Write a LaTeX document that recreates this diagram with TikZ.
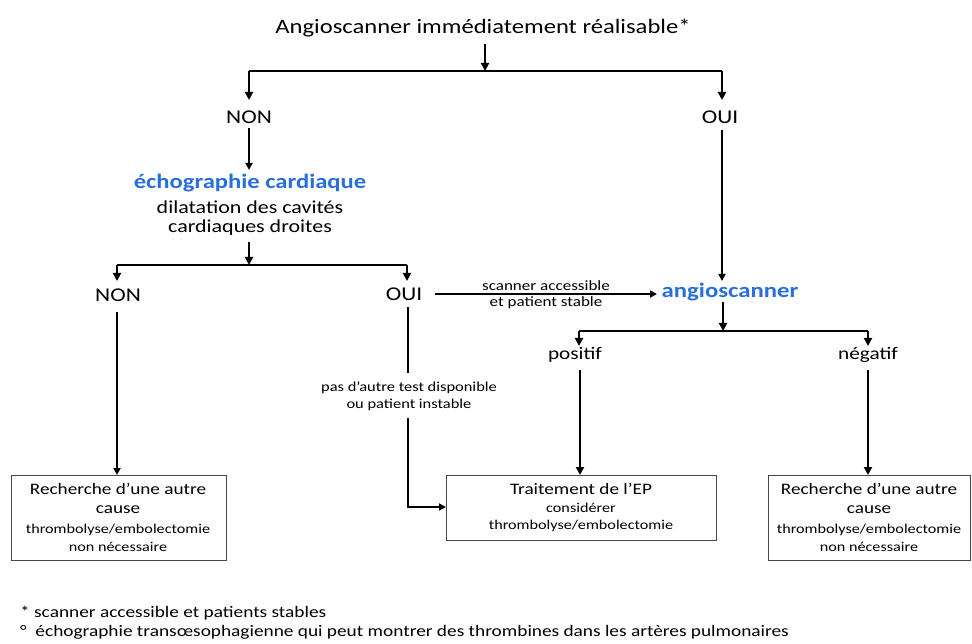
\documentclass[tikz,border=0pt]{standalone}
\usepackage{fontspec}
\setmainfont{Carlito}
\usetikzlibrary{arrows.meta}
\definecolor{echoblue}{RGB}{40,110,220}
\definecolor{boxgray}{RGB}{70,70,70}
\newcommand\X[1]{\scalebox{1.2}[1]{#1}}
\newcommand\fs[1]{\fontsize{#1}{#1}\selectfont}
\begin{document}
\begin{tikzpicture}[x=1pt,y=-1pt,
  lbl/.style={inner sep=0pt,anchor=center,text=black},
  thk/.style={line width=2.8pt},
  thn/.style={line width=1.8pt},
  arr/.style={-{Triangle[length=8pt,width=8pt]}},
  sarr/.style={-{Triangle[length=7pt,width=7pt]}},
  box/.style={draw=boxgray,line width=1.4pt,inner sep=0pt,anchor=north west}]
\useasboundingbox (0,0) rectangle (972,644);
\fill[white] (0,0) rectangle (972,644);

% texts
\node[lbl] (title) at (483,28) {\fs{20.5}\X{Angioscanner immédiatement réalisable*}};
\node[lbl] (non1) at (249,117) {\fs{19.5}\X{NON}};
\node[lbl] (oui1) at (720,117) {\fs{19.5}\X{OUI}};
\node[lbl,text=echoblue] (echo) at (250,183) {\fs{20.5}\bfseries\X{échographie cardiaque}};
\node[lbl] (dil1) at (250,207) {\fs{18.3}\X{dilatation des cavités}};
\node[lbl] (dil2) at (250,228) {\fs{18.3}\X{cardiaques droites}};
\node[lbl] (non2) at (118,295) {\fs{19.5}\X{NON}};
\node[lbl] (oui2) at (404,294) {\fs{19.5}\X{OUI}};
\node[lbl,text=echoblue] (angio) at (730,292) {\fs{20.6}\bfseries\X{angioscanner}};
\node[lbl] (lab1) at (546,286) {\fs{14.2}\X{scanner accessible}};
\node[lbl] (lab2) at (546,303) {\fs{14.2}\X{et patient stable}};
\node[lbl] (lab3) at (409,388) {\fs{13.7}\X{pas d’autre test disponible}};
\node[lbl] (lab4) at (409,405) {\fs{13.7}\X{ou patient instable}};
\node[lbl] (pos) at (575,355) {\fs{17.7}\X{positif}};
\node[lbl] (neg) at (868,355) {\fs{17.7}\X{négatif}};

% boxes
\node[box,minimum width=215pt,minimum height=85pt] (boxL) at (11,475) {};
\node[box,minimum width=270pt,minimum height=65pt] (boxM) at (446,475) {};
\node[box,minimum width=202pt,minimum height=85pt] (boxR) at (768,475) {};

\node[lbl] (l1) at (118,489) {\fs{16}\X{Recherche d’une autre}};
\node[lbl] (l2) at (118,510) {\fs{16}\X{cause}};
\node[lbl] (l3) at (118,530) {\fs{13.5}\X{thrombolyse/embolectomie}};
\node[lbl] (l4) at (118,547) {\fs{13.5}\X{non nécessaire}};
\node[lbl] (m1) at (581,489) {\fs{16}\X{Traitement de l’EP}};
\node[lbl] (m2) at (581,508) {\fs{13.5}\X{considérer}};
\node[lbl] (m3) at (581,526) {\fs{13.5}\X{thrombolyse/embolectomie}};
\node[lbl] (r1) at (869,489) {\fs{16}\X{Recherche d’une autre}};
\node[lbl] (r2) at (869,510) {\fs{16}\X{cause}};
\node[lbl] (r3) at (869,530) {\fs{13.5}\X{thrombolyse/embolectomie}};
\node[lbl] (r4) at (869,547) {\fs{13.5}\X{non nécessaire}};

\node[lbl,anchor=west] (f1) at (20,613) {\fs{16.1}\X{* scanner accessible et patients stables}};
\node[lbl,anchor=west] (f2) at (20,632) {\fs{16.1}\X{°\ \ échographie transœsophagienne qui peut montrer des thrombines dans les artères pulmonaires}};

% junction coordinates
\coordinate (t0) at (485,44);
\coordinate (b1) at (485,71);
\coordinate (b1L) at (249,71);
\coordinate (b1R) at (722,71);
\coordinate (e0) at (249,242);
\coordinate (b2) at (249,265);
\coordinate (b2L) at (117,265);
\coordinate (b2R) at (407,265);
\coordinate (a0) at (723,302);
\coordinate (b3) at (723,331);
\coordinate (b3L) at (579,331);
\coordinate (b3R) at (868,331);
\coordinate (o2a) at (408,307);
\coordinate (o2b) at (408,373);
\coordinate (o2c) at (408,418);
\coordinate (o2d) at (408,507);

% connectors
\draw[thk,arr] (t0) -- (b1);
\draw[thk] (b1L) -- (b1R);
\draw[thk,arr] (b1L) -- (249,100);
\draw[thk,arr] (b1R) -- (722,100);
\draw[thn,sarr] (249,128) -- (249,170);
\draw[thn,sarr] (722,130) -- (722,281);
\draw[thk,arr] (e0) -- (b2);
\draw[thk] (b2L) -- (b2R);
\draw[thk,arr] (b2L) -- (117,281);
\draw[thk,arr] (b2R) -- (407,281);
\draw[thn,sarr] (435,294) -- (657,294);
\draw[thn,sarr] (117,312) -- (boxL.north -| 117,0);
\draw[thn] (o2a) -- (o2b);
\draw[thn,sarr] (o2c) -- (o2d) -- (boxM.west |- o2d);
\draw[thk,arr] (a0) -- (b3);
\draw[thk] (b3L) -- (b3R);
\draw[thk,arr] (b3L) -- (579,346);
\draw[thk,arr] (b3R) -- (868,346);
\draw[thk,arr] (580,370) -- (boxM.north -| 580,0);
\draw[thk,arr] (868,370) -- (boxR.north -| 868,0);
\end{tikzpicture}
\end{document}
